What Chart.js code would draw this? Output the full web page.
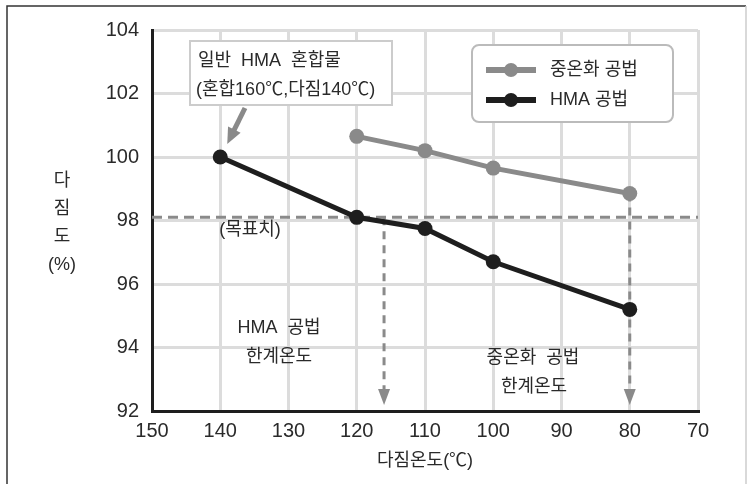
<!DOCTYPE html>
<html>
<head>
<meta charset="utf-8">
<script src="https://cdn.jsdelivr.net/npm/chart.js@4.4.1/dist/chart.umd.min.js"></script>
<style>
  body { margin: 0; background: #fff; }
  canvas { display: block; }
</style>
</head>
<body>
<canvas id="chart" width="747" height="484"></canvas>
<script>
// data
const hmaTemps = [140, 120, 110, 100, 80];
const hmaValues = [100.0, 98.1, 97.75, 96.7, 95.2];
const wmaTemps = [120, 110, 100, 80];
const wmaValues = [100.65, 100.2, 99.65, 98.85];
const seriesLabels = ['중온화 공법', 'HMA 공법'];
const targetValue = 98.1;
const limitTemps = [116, 80];   // HMA, 중온화 한계온도
const xRange = [70, 150];
const yRange = [92, 104];

const FONT = "'Liberation Sans', 'Noto Sans CJK KR', sans-serif";
Chart.defaults.font.family = FONT;
Chart.defaults.color = '#222';

const GRAY = '#8a8a8a';
const BLACK = '#1e1e1e';
const TEXT = '#2a2a2a';

function arrowHead(ctx, x, y, w, h, color) {
    ctx.fillStyle = color;
    ctx.beginPath();
    ctx.moveTo(x, y);
    ctx.lineTo(x - w / 2, y - h);
    ctx.lineTo(x + w / 2, y - h);
    ctx.closePath();
    ctx.fill();
}

const extras = {
    id: 'extras',
    beforeDraw(chart) {
        const ctx = chart.ctx;
        ctx.save();
        // outer frame
        ctx.strokeStyle = '#333';
        ctx.lineWidth = 1.5;
        ctx.beginPath();
        ctx.moveTo(7, 484);
        ctx.lineTo(7, 6);
        ctx.lineTo(746, 6);
        ctx.stroke();
        ctx.strokeStyle = '#ccc';
        ctx.beginPath();
        ctx.moveTo(746, 6);
        ctx.lineTo(746, 484);
        ctx.stroke();
        ctx.restore();
    },
    beforeDatasetsDraw(chart) {
        const ctx = chart.ctx;
        const x = chart.scales.x, y = chart.scales.y;
        const area = chart.chartArea;
        const yT = y.getPixelForValue(targetValue);
        ctx.save();
        ctx.strokeStyle = GRAY;
        ctx.lineWidth = 3;
        ctx.setLineDash([10, 6]);
        ctx.beginPath();
        ctx.moveTo(area.left, yT);
        ctx.lineTo(area.right, yT);
        ctx.stroke();

        const bottomTip = area.bottom - 6;
        // HMA limit arrow (from target line)
        const x1 = x.getPixelForValue(limitTemps[0]);
        ctx.setLineDash([8, 6]);
        ctx.beginPath();
        ctx.moveTo(x1, yT);
        ctx.lineTo(x1, bottomTip - 12);
        ctx.stroke();
        // WMA limit arrow (from last gray point)
        const x2 = x.getPixelForValue(limitTemps[1]);
        const yW = y.getPixelForValue(wmaValues[wmaValues.length - 1]);
        ctx.beginPath();
        ctx.moveTo(x2, yW);
        ctx.lineTo(x2, bottomTip - 12);
        ctx.stroke();
        ctx.setLineDash([]);
        arrowHead(ctx, x1, bottomTip, 12, 16, GRAY);
        arrowHead(ctx, x2, bottomTip, 12, 16, GRAY);
        ctx.restore();
    },
    afterDraw(chart) {
        const ctx = chart.ctx;
        const x = chart.scales.x, y = chart.scales.y;
        ctx.save();
        ctx.fillStyle = TEXT;
        ctx.font = '18px ' + FONT;
        ctx.textAlign = 'center';
        ctx.textBaseline = 'middle';

        // y title, stacked vertically
        ['다', '짐', '도', '(%)'].forEach((t, i) => {
            ctx.fillText(t, 62, [181, 209, 237, 265][i]);
        });
        // x title
        ctx.fillText('다짐온도(℃)', 425, 461);

        // annotations
        ctx.fillText('(목표치)', 250, 230);
        ctx.fillText('HMA  공법', 279, 328);
        ctx.fillText('한계온도', 279, 357);
        ctx.fillText('중온화  공법', 533, 358);
        ctx.fillText('한계온도', 534, 387);

        // callout box
        ctx.fillStyle = '#fff';
        ctx.fillRect(190, 41, 202, 64);
        ctx.strokeStyle = '#ccc';
        ctx.lineWidth = 2;
        ctx.strokeRect(190, 41, 202, 64);
        ctx.fillStyle = TEXT;
        ctx.textAlign = 'left';
        ctx.fillText('일반  HMA  혼합물', 198, 61);
        ctx.fillText('(혼합160℃,다짐140℃)', 196, 90);

        // callout arrow to first HMA point
        const px = x.getPixelForValue(hmaTemps[0]);
        const py = y.getPixelForValue(hmaValues[0]);
        const tipX = px + 7, tipY = py - 13;
        const sx = 245, sy = 108;
        const ang = Math.atan2(tipY - sy, tipX - sx);
        ctx.strokeStyle = GRAY;
        ctx.lineWidth = 5;
        ctx.beginPath();
        ctx.moveTo(sx, sy);
        ctx.lineTo(tipX - 14 * Math.cos(ang), tipY - 14 * Math.sin(ang));
        ctx.stroke();
        ctx.translate(tipX, tipY);
        ctx.rotate(ang - Math.PI / 2);
        arrowHead(ctx, 0, 0, 14, 16, GRAY);
        ctx.setTransform(1, 0, 0, 1, 0, 0);

        // legend
        const lx = 472, ly = 45, lw = 201, lh = 77;
        ctx.fillStyle = '#fff';
        ctx.strokeStyle = '#bbb';
        ctx.lineWidth = 2;
        ctx.beginPath();
        ctx.roundRect(lx, ly, lw, lh, 7);
        ctx.fill();
        ctx.stroke();
        chart.data.datasets.forEach((ds, i) => {
            const rowY = 70 + i * 30;
            ctx.strokeStyle = ds.borderColor;
            ctx.lineWidth = 6;
            ctx.beginPath();
            ctx.moveTo(486, rowY);
            ctx.lineTo(536, rowY);
            ctx.stroke();
            ctx.fillStyle = ds.borderColor;
            ctx.beginPath();
            ctx.arc(511, rowY, 7, 0, Math.PI * 2);
            ctx.fill();
            ctx.fillStyle = TEXT;
            ctx.textAlign = 'left';
            ctx.font = '18px ' + FONT;
            ctx.fillText(ds.label, 550, rowY);
        });
        ctx.restore();
    }
};

new Chart(document.getElementById('chart'), {
    type: 'line',
    data: {
        datasets: [
            {
                label: seriesLabels[0],
                data: wmaTemps.map((t, i) => ({ x: t, y: wmaValues[i] })),
                borderColor: GRAY,
                backgroundColor: GRAY,
                borderWidth: 5,
                pointRadius: 7.5,
                pointBorderWidth: 0
            },
            {
                label: seriesLabels[1],
                data: hmaTemps.map((t, i) => ({ x: t, y: hmaValues[i] })),
                borderColor: BLACK,
                backgroundColor: BLACK,
                borderWidth: 5,
                pointRadius: 7.5,
                pointBorderWidth: 0
            }
        ]
    },
    options: {
        responsive: false,
        animation: false,
        layout: { padding: { top: 30, right: 49, left: 0, bottom: 0 } },
        plugins: { legend: { display: false }, tooltip: { enabled: false } },
        scales: {
            x: {
                type: 'linear',
                reverse: true,
                min: xRange[0],
                max: xRange[1],
                ticks: { stepSize: 10, font: { size: 20 }, color: TEXT, padding: 8 },
                grid: { color: '#dcdcdc', lineWidth: 3, drawTicks: false },
                border: { color: '#1e1e1e', width: 3 },
                afterFit(scale) { scale.height = 73; }
            },
            y: {
                min: yRange[0],
                max: yRange[1],
                ticks: { stepSize: 2, font: { size: 20 }, color: TEXT, padding: 13 },
                grid: { color: '#dcdcdc', lineWidth: 3, drawTicks: false },
                border: { color: '#1e1e1e', width: 3 },
                afterFit(scale) { scale.width = 152; }
            }
        }
    },
    plugins: [extras]
});
</script>
</body>
</html>
